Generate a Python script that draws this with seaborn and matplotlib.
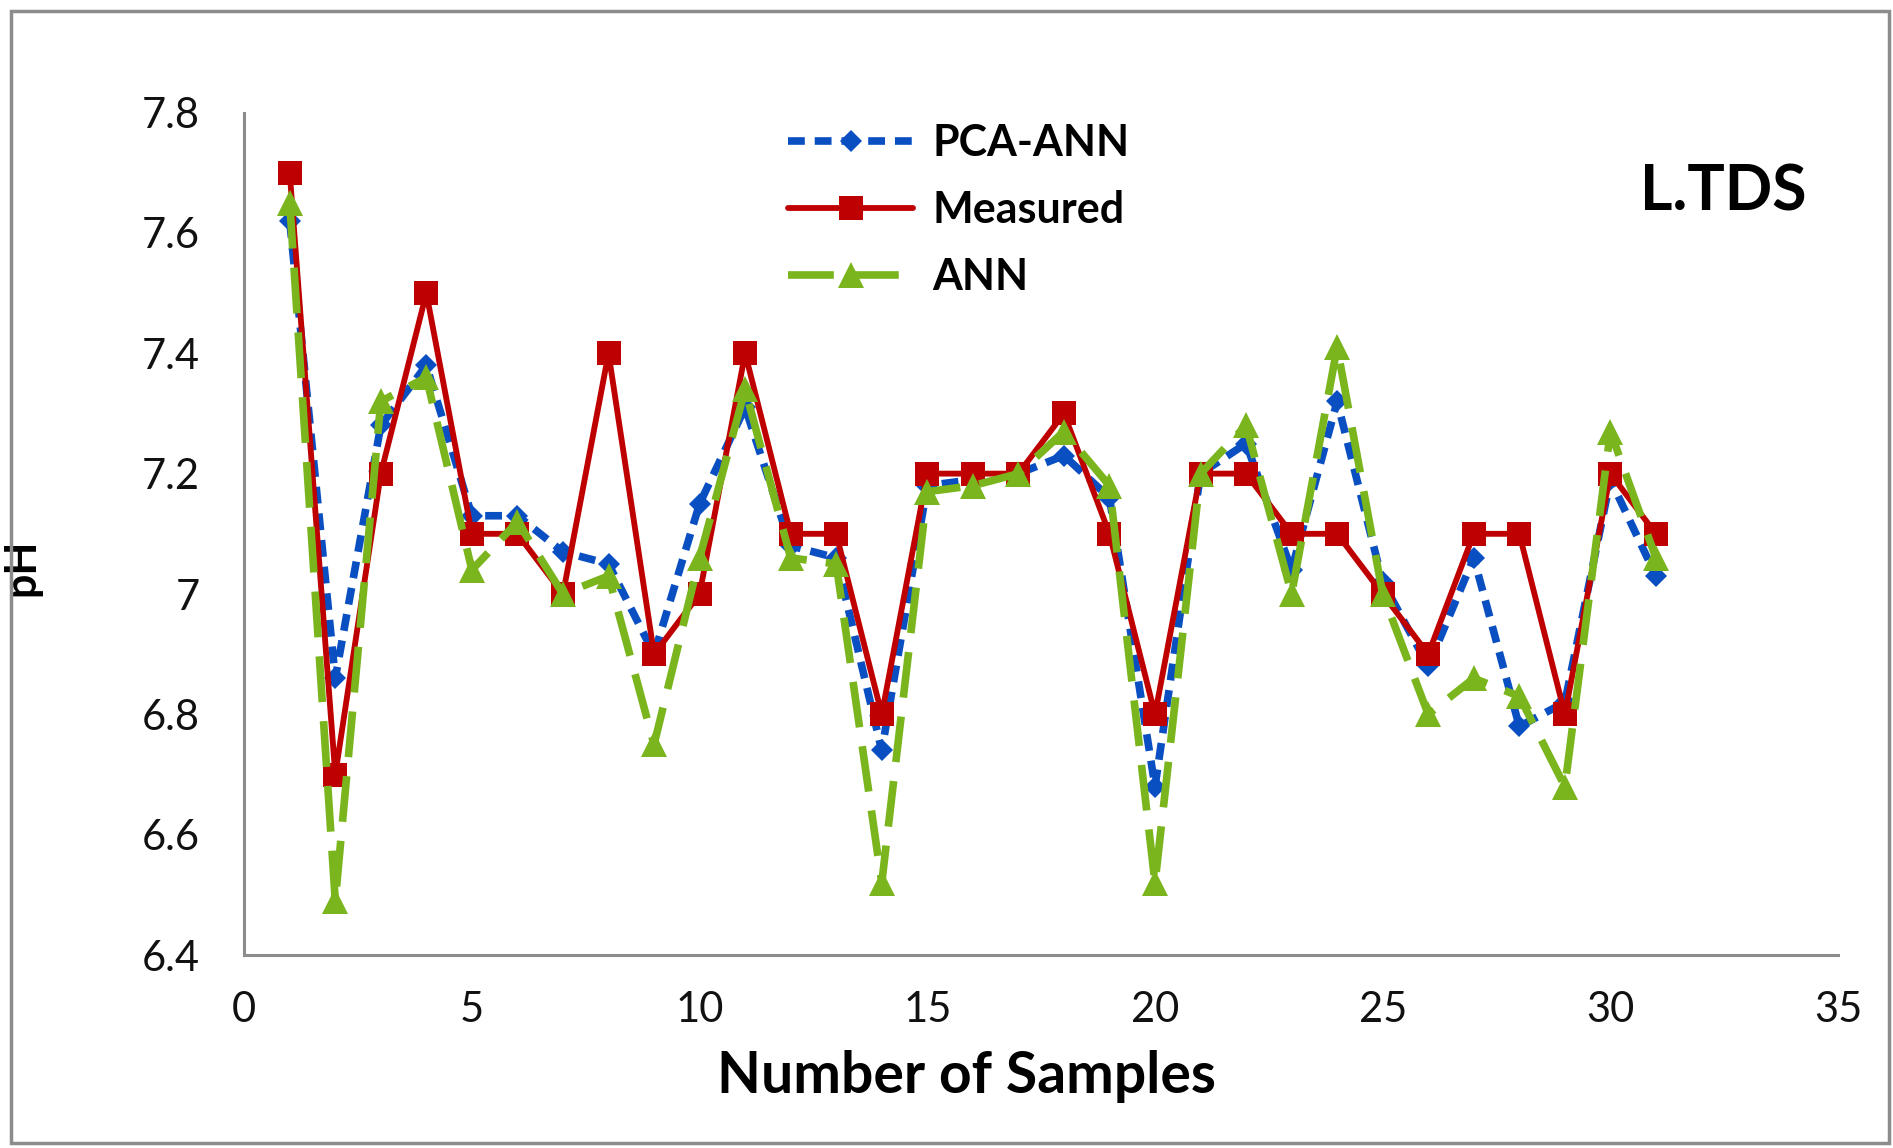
import pandas as pd
import numpy as np
import matplotlib
matplotlib.use('Agg')
import matplotlib.pyplot as plt
import seaborn as sns
from matplotlib.ticker import FuncFormatter

# data
samples = list(range(1, 32))
measured = [7.7, 6.7, 7.2, 7.5, 7.1, 7.1, 7.0, 7.4, 6.9, 7.0,
            7.4, 7.1, 7.1, 6.8, 7.2, 7.2, 7.2, 7.3, 7.1, 6.8,
            7.2, 7.2, 7.1, 7.1, 7.0, 6.9, 7.1, 7.1, 6.8, 7.2, 7.1]
pca_ann = [7.62, 6.86, 7.28, 7.38, 7.13, 7.13, 7.07, 7.05, 6.9, 7.15,
           7.31, 7.08, 7.06, 6.74, 7.18, 7.19, 7.2, 7.23, 7.16, 6.68,
           7.2, 7.25, 7.04, 7.32, 7.02, 6.88, 7.06, 6.78, 6.82, 7.19, 7.03]
ann = [7.65, 6.49, 7.32, 7.36, 7.04, 7.12, 7.0, 7.03, 6.75, 7.06,
       7.34, 7.06, 7.05, 6.52, 7.17, 7.18, 7.2, 7.27, 7.18, 6.52,
       7.2, 7.28, 7.0, 7.41, 7.0, 6.8, 6.86, 6.83, 6.68, 7.27, 7.06]

df = pd.DataFrame({'Samples': samples, 'PCA-ANN': pca_ann,
                   'Measured': measured, 'ANN': ann})

sns.set_style('white')
plt.rcParams['font.family'] = ['Lato', 'DejaVu Sans']
plt.rcParams['text.color'] = 'black'

fig = plt.figure(figsize=(18.93, 11.48), dpi=100)
ax = fig.add_axes([0.129, 0.168, 0.842, 0.734])

blue = '#0A4FC2'
red = '#BF0000'
green = '#7AB51D'

sns.lineplot(data=df, x='Samples', y='PCA-ANN', ax=ax, color=blue,
             linewidth=5.5, linestyle=(0, (2.2, 1.3)), marker='D',
             markersize=11, markeredgewidth=0, label='PCA-ANN')
sns.lineplot(data=df, x='Samples', y='Measured', ax=ax, color=red,
             linewidth=4.2, marker='s', markersize=17,
             markeredgewidth=0, label='Measured')
sns.lineplot(data=df, x='Samples', y='ANN', ax=ax, color=green,
             linewidth=5.5, linestyle=(0, (6, 2.5)), marker='^',
             markersize=19, markeredgewidth=0, label='ANN')

ax.set_xlim(0, 35)
ax.set_ylim(6.4, 7.8)
ax.set_xticks(range(0, 36, 5))
ax.set_yticks(np.arange(6.4, 7.81, 0.2))
ax.yaxis.set_major_formatter(FuncFormatter(lambda v, p: '{:g}'.format(round(v, 1))))
ax.tick_params(axis='both', labelsize=30, length=0, colors='#111111')
ax.tick_params(axis='y', pad=32)
ax.tick_params(axis='x', pad=26)

for s in ['top', 'right']:
    ax.spines[s].set_visible(False)
for s in ['left', 'bottom']:
    ax.spines[s].set_color('#8c8c8c')
    ax.spines[s].set_linewidth(2.2)

ax.set_xlabel('Number of Samples', fontsize=41, fontweight='bold', color='black')
ax.set_ylabel('pH', fontsize=31, fontweight='bold', color='black')
ax.xaxis.set_label_coords(0.453, -0.112)
ax.yaxis.set_label_coords(-0.127, 0.46)

ax.text(0.98, 0.905, 'L.TDS', transform=ax.transAxes, fontsize=45,
        fontweight='bold', ha='right', va='center')

leg = ax.legend(loc='upper left', bbox_to_anchor=(0.317, 1.033), frameon=False,
                handlelength=2.9, labelspacing=0.62, handletextpad=0.45,
                prop={'weight': 'bold', 'size': 31})

# outer chart border
fig.add_artist(plt.Rectangle((0.006, 0.004), 0.992, 0.986, fill=False,
                             edgecolor='#8c8c8c', linewidth=2.5,
                             transform=fig.transFigure))

fig.savefig('out.png', dpi=100, facecolor='white')
